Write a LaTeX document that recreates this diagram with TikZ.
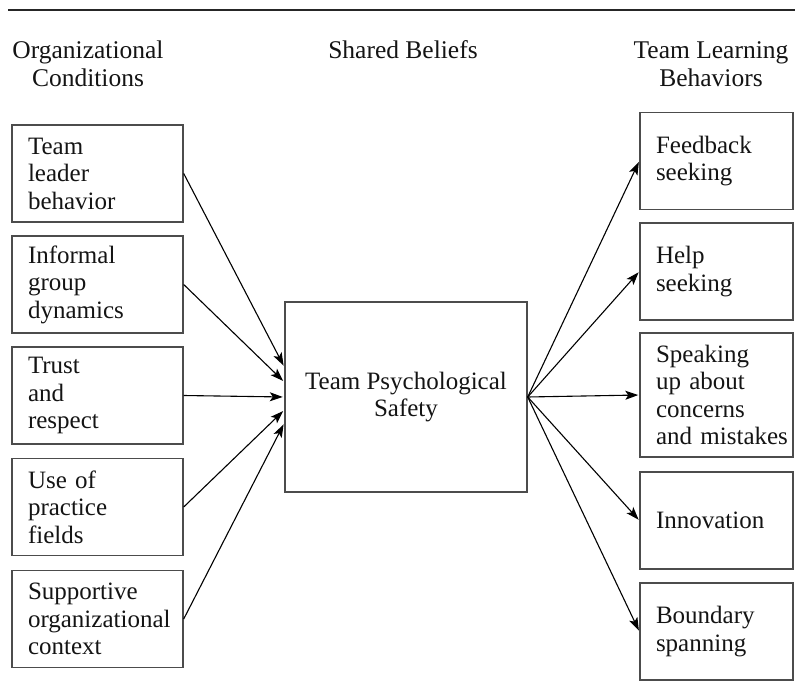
\documentclass[tikz,border=0pt]{standalone}
\usepackage{fontspec}
\setmainfont{Liberation Serif}
\usetikzlibrary{arrows.meta,calc}
\definecolor{txt}{gray}{0.08}
\definecolor{boxgray}{gray}{0.3}
\hyphenpenalty=10000
\exhyphenpenalty=10000
\hbadness=10000
\hfuzz=20pt
\begin{document}
\begin{tikzpicture}[x=1pt,y=-1pt,
  box/.style={draw=boxgray, line width=1.4pt, rectangle, inner xsep=16pt, inner ysep=0pt, align=left, font=\fontsize{25}{27.5}\selectfont, text=txt},
  lbox/.style={box, minimum width=171pt, minimum height=97pt, text width=139pt},
  rbox/.style={box, minimum width=153pt, minimum height=97pt, text width=121pt},
  cbox/.style={draw=boxgray, line width=1.4pt, rectangle, minimum width=242pt, minimum height=190pt, align=center, font=\fontsize{25}{27.5}\selectfont, text=txt},
  hdr/.style={align=center, font=\fontsize{25.5}{28}\selectfont, text=txt},
  conn/.style={line width=1.1pt, -{Stealth[length=13pt,width=9pt,inset=3pt]}},
]
\useasboundingbox (0,0) rectangle (795,695);
\draw[line width=2.8pt, black!85] (8,10) -- (795,10);

\node[hdr] (h1) at (88,64) {Organizational\\Conditions};
\node[hdr] (h2) at (403,50) {Shared Beliefs};
\node[hdr] (h3) at (711,64) {Team Learning\\Behaviors};

\node[lbox] (l1) at (97.5,173.5) {Team\\leader\\behavior};
\node[lbox] (l2) at (97.5,284.5) {Informal\\group\\dynamics};
\node[lbox] (l3) at (97.5,395.5) {Trust\\and\\respect};
\node[lbox] (l4) at (97.5,507) {Use of\\practice\\fields};
\node[lbox] (l5) at (97.5,619) {Supportive\\organizational\\context};

\node[cbox] (c) at (406,397) {Team Psychological\\Safety};

\node[rbox] (r1) at (716.5,161) {Feedback\\seeking};
\node[rbox] (r2) at (716.5,271.5) {Help\\seeking};
\node[rbox, minimum height=124pt] (r3) at (716.5,395) {Speaking\\up about\\concerns\\and~mistakes};
\node[rbox] (r4) at (716.5,520.5) {Innovation};
\node[rbox] (r5) at (716.5,631.5) {Boundary\\spanning};

\coordinate (e1) at ($(c.west)+(0,-30)$);
\coordinate (e2) at ($(c.west)+(0,-15)$);
\coordinate (e3) at ($(c.west)+(0,0)$);
\coordinate (e4) at ($(c.west)+(0,13)$);
\coordinate (e5) at ($(c.west)+(0,26)$);

\draw[conn, shorten >=1.5pt] (l1.east) -- (e1);
\draw[conn, shorten >=1.5pt] (l2.east) -- (e2);
\draw[conn, shorten >=1.5pt] (l3.east) -- (e3);
\draw[conn, shorten >=1.5pt] (l4.east) -- (e4);
\draw[conn, shorten >=1.5pt] (l5.east) -- (e5);

\draw[conn, shorten >=1pt] (c.east) -- (r1.west);
\draw[conn, shorten >=1pt] (c.east) -- (r2.west);
\draw[conn, shorten >=1pt] (c.east) -- (r3.west);
\draw[conn, shorten >=1pt] (c.east) -- (r4.west);
\draw[conn, shorten >=1pt] (c.east) -- (r5.west);
\end{tikzpicture}
\end{document}
